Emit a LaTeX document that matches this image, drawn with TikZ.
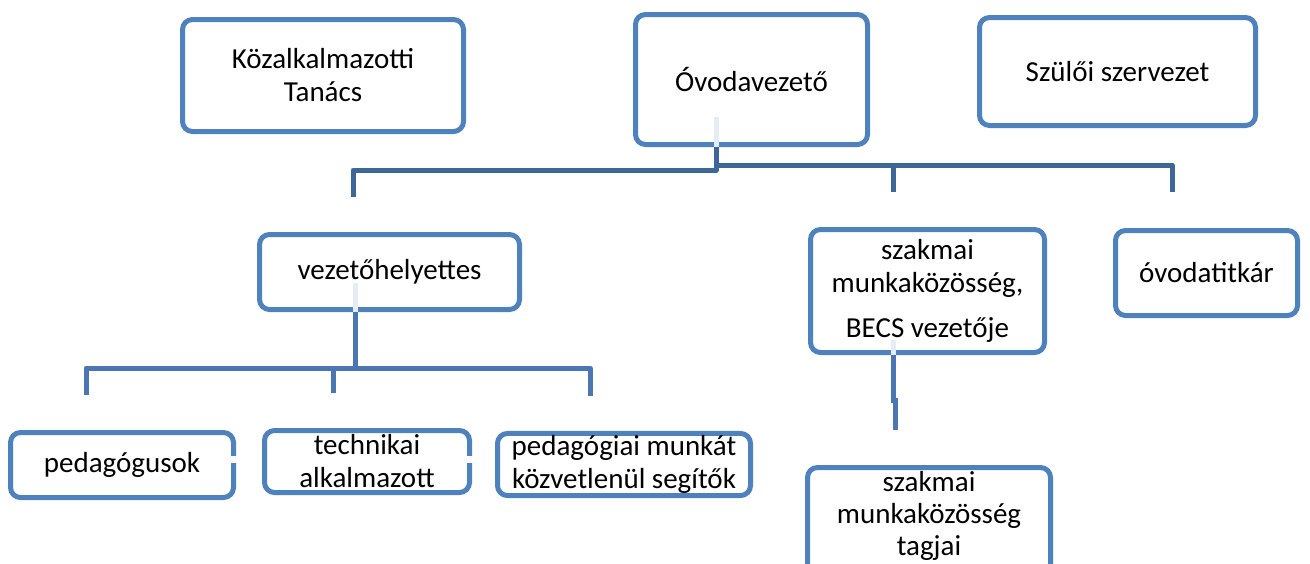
\documentclass[tikz,border=0pt]{standalone}
\usepackage{fontspec}
\setmainfont{Carlito}
\definecolor{boxblue}{HTML}{4F81BD}
\definecolor{topconn}{HTML}{3E6697}
\definecolor{lowconn}{HTML}{4A77B1}
\definecolor{faintline}{HTML}{E6ECF5}
\tikzset{
  box/.style={draw=boxblue, line width=5pt, rounded corners=10pt, fill=white,
    inner sep=2pt, align=center, font=\fontsize{29}{33}\selectfont},
  txt/.style={inner sep=0pt, align=center, font=\fontsize{29}{32}\selectfont},
  conntop/.style={draw=topconn, line width=5pt, line join=round},
  connlow/.style={draw=lowconn, line width=5pt, line join=round},
  faint/.style={draw=faintline, line width=5pt}
}
\begin{document}
\begin{tikzpicture}[x=1pt,y=-1pt]
\useasboundingbox (0,0) rectangle (1310,563);
\clip (0,0) rectangle (1310,563);
\fill[white] (0,0) rectangle (1310,563);

% boxes
\node[box, minimum width=281pt, minimum height=112pt] (KT) at (323,75.5) {Közalkalmazotti\\Tanács};
\node[box, minimum width=232pt, minimum height=130pt] (OV) at (751.5,79.5) {Óvodavezető};
\node[box, minimum width=276pt, minimum height=108pt] (SZ) at (1117.5,71.5) {Szülői szervezet};
\node[box, minimum width=260pt, minimum height=75pt] (VH) at (389.5,272) {vezetőhelyettes};
\node[box, minimum width=234pt, minimum height=123pt] (SM) at (927.5,291) {szakmai\\munkaközösség,\\[12pt]BECS vezetője};
\node[box, minimum width=182pt, minimum height=85pt] (OT) at (1206.5,273) {óvodatitkár};
\node[box, minimum width=223pt, minimum height=65pt] (PE) at (122,465) {pedagógusok};
\node[box, minimum width=205pt, minimum height=62pt] (TE) at (367,461.5) {technikai\\alkalmazott};
\node[box, minimum width=253pt, minimum height=60pt] (PM) at (624,464.5) {pedagógiai munkát\\közvetlenül segítők};
\node[box, minimum width=243pt, minimum height=120pt] (TA) at (929,527.5) {};
\node[txt] (TAt) at (929,516) {szakmai\\munkaközösség\\tagjai};

% small gaps in right borders
\fill[white] (229,456) rectangle (239,463);
\fill[white] (466,456) rectangle (476,463);

% junction coordinates
\coordinate (t0) at (716,170);
\coordinate (t1) at (716,165);
\coordinate (tL) at (353,197);
\coordinate (tM) at (893,192);
\coordinate (tR) at (1172,192);
\coordinate (v0) at (355,368);
\coordinate (vL) at (86,395);
\coordinate (vM) at (333,393);
\coordinate (vR) at (590,396);
\coordinate (s0) at (893,403);
\coordinate (s1) at (895,430);

% faint stubs inside boxes
\draw[faint] (OV.south -| t0) -- ++(0,-30);
\draw[faint] (VH.south -| v0) -- ++(0,-29);
\draw[faint] (SM.south -| s0) -- ++(0,-15);

% top connectors
\draw[conntop] (OV.south -| t0) -- (t0) -| (tL);
\draw[conntop] (t1) -| (tR);
\draw[conntop] (t1 -| tM) -- (tM);

% vezetohelyettes connectors
\draw[connlow] (VH.south -| v0) -- (v0) -| (vL);
\draw[connlow] (v0) -| (vR);
\draw[connlow] (vM |- v0) -- (vM);

% szakmai connector
\draw[connlow] (SM.south -| s0) -- (s0);
\draw[connlow] (s1 |- s0) ++(0,-5) -- (s1);
\end{tikzpicture}
\end{document}
